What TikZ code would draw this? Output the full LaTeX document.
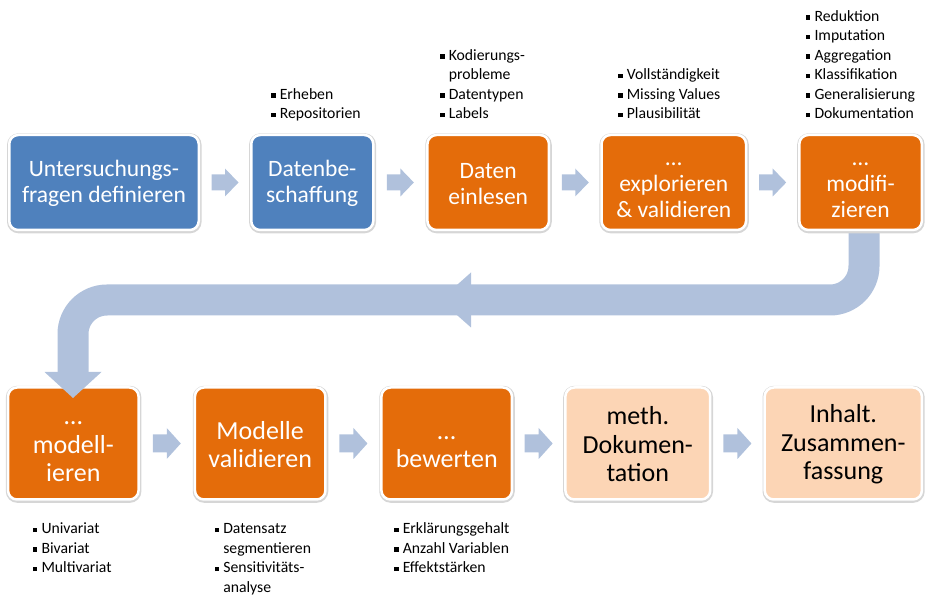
\documentclass[tikz,border=0pt]{standalone}
\usepackage{fontspec}
\setmainfont{Carlito}
\usetikzlibrary{calc}
\definecolor{boxblue}{HTML}{4F81BD}
\definecolor{boxorange}{HTML}{E46C0A}
\definecolor{boxpeach}{HTML}{FCD5B5}
\definecolor{pfeilblau}{HTML}{B0C1DC}
\newcommand{\punkt}[1]{\makebox[8.6pt][l]{\rule[1.5pt]{4.4pt}{4.4pt}}#1\strut}
\newcommand{\weiter}[1]{\hspace*{8.6pt}#1\strut}
\tikzset{
  schritt/.style={draw=white, line width=2.5pt, rounded corners=9pt, minimum height=95pt,
    inner sep=0pt, align=center, text=white, font=\fontsize{23.5}{26}\selectfont,
    preaction={draw=black!16, line width=5pt, transform canvas={xshift=0.3pt,yshift=-0.8pt}}},
  unten/.style={minimum height=112pt, font=\fontsize{26}{28.5}\selectfont},
  liste/.style={inner sep=0pt, align=left, font=\fontsize{15.7}{19.5}\selectfont},
  band/.style={draw=pfeilblau, line width=31pt, rounded corners=34pt},
}
\begin{document}
\begin{tikzpicture}[x=1pt,y=1pt]
				\useasboundingbox (0,0) rectangle (930,605);
				
				\draw[band] (864,430) -- (864,305) -- (468,305);
				\fill[pfeilblau] (471,332.5) -- (440,305) -- (471,277.5) -- cycle;
				
				\node[schritt, fill=boxblue, minimum width=189.5pt] (b1) at (104,422.5) {\strut Untersuchungs-\\fragen definieren};
				\node[schritt, fill=boxblue, minimum width=122pt] (b2) at (312.25,422.5) {\strut Datenbe-\\schaffung};
				\node[schritt, fill=boxorange, minimum width=121.5pt] (b3) at (488.2,422.5) {\strut Daten\\einlesen};
				\node[schritt, fill=boxorange, minimum width=144.5pt] (b4) at (673.8,422.5) {\strut…\\explorieren\\\& validieren};
				\node[schritt, fill=boxorange, minimum width=122.5pt] (b5) at (860.6,422.5) {\strut…\\modifi-\\zieren};
				
				\node[schritt, unten, fill=boxorange, minimum width=130.5pt] (b6) at (73.3,161.5) {\strut…\\modell-\\ieren};
				\node[schritt, unten, fill=boxorange, minimum width=130.5pt] (b7) at (260.2,161.5) {\strut Modelle\\validieren};
				\node[schritt, unten, fill=boxorange, minimum width=130.5pt] (b8) at (446.7,161.5) {\strut…\\bewerten};
				\node[schritt, unten, fill=boxpeach, text=black, minimum width=144.8pt] (b9) at (637.8,161.5) {\strut meth.\\Dokumen-\\tation};
				\node[schritt, unten, fill=boxpeach, text=black, minimum width=157.2pt] (b10) at (843.3,161.5) {\strut Inhalt.\\Zusammen-\\fassung};
				
				\node[liste, anchor=south west] (l2) at (271,480.2) {\punkt{Erheben}\\\punkt{Repositorien}};
				\node[liste, anchor=south west] (l3) at (440,480.2) {\punkt{Kodierungs-}\\\weiter{probleme}\\\punkt{Datentypen}\\\punkt{Labels}};
				\node[liste, anchor=south west] (l4) at (618,480.2) {\punkt{Vollständigkeit}\\\punkt{Missing Values}\\\punkt{Plausibilität}};
				\node[liste, anchor=south west] (l5) at (805.7,480.2) {\punkt{Reduktion}\\\punkt{Imputation}\\\punkt{Aggregation}\\\punkt{Klassifikation}\\\punkt{Generalisierung}\\\punkt{Dokumentation}};
				
				\node[liste, anchor=north west] (l6) at (32.7,85.1) {\punkt{Univariat}\\\punkt{Bivariat}\\\punkt{Multivariat}};
				\node[liste, anchor=north west] (l7) at (214.5,85.1) {\punkt{Datensatz}\\\weiter{segmentieren}\\\punkt{Sensitivitäts-}\\\weiter{analyse}};
				\node[liste, anchor=north west] (l8) at (394,85.1) {\punkt{Erklärungsgehalt}\\\punkt{Anzahl Variablen}\\\punkt{Effektstärken}};
				
				\foreach \a/\b in {b1/b2,b2/b3,b3/b4,b4/b5}{
					\fill[pfeilblau] ($(\a.east)!0.5!(\b.west)$) ++(-13.5,8) -- ++(13.5,0) -- ++(0,6) -- ++(13.5,-14) -- ++(-13.5,-14) -- ++(0,6) -- ++(-13.5,0) -- cycle;}
				
				\foreach \a/\b in {b6/b7,b7/b8,b8/b9,b9/b10}{
					\fill[pfeilblau] ($(\a.east)!0.5!(\b.west)$) ++(-14,9) -- ++(14,0) -- ++(0,6.5) -- ++(14,-15.5) -- ++(-14,-15.5) -- ++(0,6.5) -- ++(-14,0) -- cycle;}
				
				\draw[band] (470,305) -- (73,305) -- (73,230);
				\fill[pfeilblau] (44.5,233) -- (73,207) -- (101.5,233) -- cycle;
			\end{tikzpicture}
\end{document}
